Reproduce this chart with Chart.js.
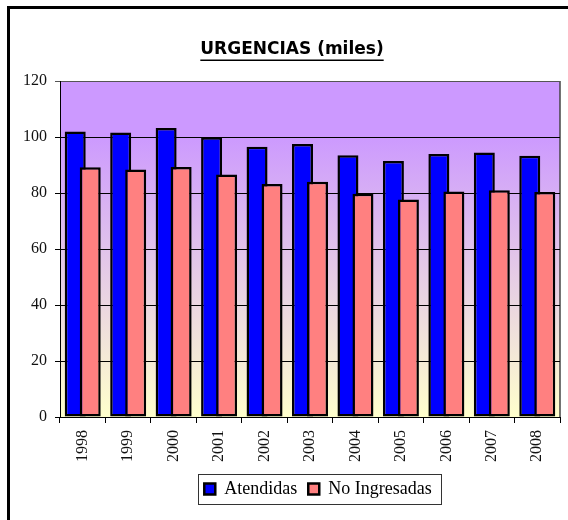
<!DOCTYPE html>
<html>
<head>
<meta charset="utf-8">
<script src="https://cdn.jsdelivr.net/npm/chart.js@4/dist/chart.umd.min.js"></script>
<style>
  body { margin: 0; background: #fff; }
</style>
</head>
<body>
<canvas id="urgencias" width="568" height="520"></canvas>
<script>
const years = ["1998", "1999", "2000", "2001", "2002", "2003", "2004", "2005", "2006", "2007", "2008"];
const atendidas = [102.0, 101.6, 103.2, 99.9, 96.5, 97.5, 93.5, 91.4, 93.9, 94.5, 93.3];
const noIngresadas = [89.2, 88.4, 89.3, 86.6, 83.2, 84.0, 79.7, 77.7, 80.5, 81.0, 80.4];
const yMin = 0;
const yMax = 120;
const yStep = 20;

const serif = "'Liberation Serif', 'DejaVu Serif', serif";

// white page, outer frame and the purple-to-yellow plot background
const backdrop = {
  id: "backdrop",
  beforeDraw(chart) {
    const { ctx, chartArea: a } = chart;
    ctx.save();
    ctx.fillStyle = "#fff";
    ctx.fillRect(0, 0, chart.width, chart.height);
    ctx.lineWidth = 3;
    ctx.strokeStyle = "#000";
    ctx.strokeRect(8.5, 7.5, 620, 620);

    const g = ctx.createLinearGradient(0, a.top, 0, a.bottom);
    g.addColorStop(0, "#cc99ff");
    g.addColorStop(0.16, "#cc99ff");
    g.addColorStop(1, "#ffffcc");
    ctx.fillStyle = g;
    ctx.fillRect(a.left, a.top, a.right - a.left, a.bottom - a.top);

    ctx.strokeStyle = "#444";
    ctx.lineWidth = 1.5;
    ctx.beginPath();
    ctx.moveTo(a.right, a.top);
    ctx.lineTo(a.right, a.bottom);
    ctx.stroke();
    ctx.restore();
  }
};

// second series overlaps the first one, so draw it last
const overlap = {
  id: "overlap",
  beforeDatasetDraw(chart, args) {
    if (args.index === 1) return false;
  },
  afterDatasetsDraw(chart) {
    chart.getDatasetMeta(1).controller.draw();
  }
};

// move legend to the right, underline title, box around legend
const extras = {
  id: "extras",
  afterLayout(chart) {
    chart.legend.left += 26;
    chart.legend.right += 26;
  },
  afterDraw(chart) {
    const ctx = chart.ctx;
    const t = chart.titleBlock;
    const topts = chart.options.plugins.title;
    ctx.save();
    ctx.font = "bold 17px 'DejaVu Sans'";
    const w = ctx.measureText(topts.text).width;
    const cx = (t.left + t.right) / 2;
    const mid = t.top + topts.padding.top + 10.2;
    ctx.strokeStyle = "#000";
    ctx.lineWidth = 1.5;
    ctx.beginPath();
    ctx.moveTo(cx - w / 2, mid + 11);
    ctx.lineTo(cx + w / 2, mid + 11);
    ctx.stroke();

    const hb = chart.legend.legendHitBoxes;
    if (hb.length) {
      const first = hb[0];
      const last = hb[hb.length - 1];
      const x0 = first.left - 6;
      const x1 = last.left + last.width + 10;
      const y0 = first.top - 6;
      const y1 = first.top + first.height + 6;
      ctx.strokeStyle = "#333";
      ctx.lineWidth = 1;
      ctx.strokeRect(Math.round(x0) + 0.5, Math.round(y0) + 0.5, Math.round(x1 - x0), Math.round(y1 - y0));
    }
    ctx.restore();
  }
};

new Chart(document.getElementById("urgencias"), {
  type: "bar",
  data: {
    labels: years,
    datasets: [
      {
        label: "Atendidas",
        data: atendidas,
        backgroundColor: "#0000ff",
        borderColor: "#000",
        borderWidth: 2.5,
        borderSkipped: false
      },
      {
        label: "No Ingresadas",
        data: noIngresadas,
        backgroundColor: "#ff8080",
        borderColor: "#000",
        borderWidth: 2.5,
        borderSkipped: false
      }
    ]
  },
  options: {
    responsive: false,
    animation: false,
    categoryPercentage: 0.66,
    barPercentage: 1.4,
    layout: { padding: { left: 24, right: 8, top: 0, bottom: 12 } },
    plugins: {
      title: {
        display: true,
        text: "URGENCIAS (miles)",
        color: "#000",
        font: { family: "'DejaVu Sans'", size: 17, weight: "bold" },
        padding: { top: 39, bottom: 21.6 }
      },
      legend: {
        position: "bottom",
        labels: {
          color: "#000",
          font: { family: serif, size: 18 },
          boxWidth: 11,
          boxHeight: 11,
          padding: 11
        }
      },
      tooltip: { enabled: false }
    },
    scales: {
      x: {
        offset: true,
        grid: {
          offset: true,
          drawOnChartArea: false,
          drawTicks: true,
          tickLength: 6,
          color: "#000"
        },
        border: { color: "#000", width: 1 },
        ticks: {
          color: "#111",
          font: { family: serif, size: 16 },
          minRotation: 90,
          maxRotation: 90,
          autoSkip: false,
          padding: 7
        },
        afterFit(scale) { scale.height = 52; }
      },
      y: {
        min: yMin,
        max: yMax,
        grid: {
          color: (c) => (c.tick && c.tick.value === yMax ? "#555" : "#000"),
          lineWidth: 1,
          tickLength: 5
        },
        border: { color: "#000", width: 1 },
        ticks: {
          stepSize: yStep,
          color: "#111",
          font: { family: serif, size: 16 },
          padding: 8
        },
        afterFit(scale) { scale.width = 36; }
      }
    }
  },
  plugins: [backdrop, overlap, extras]
});
</script>
</body>
</html>
